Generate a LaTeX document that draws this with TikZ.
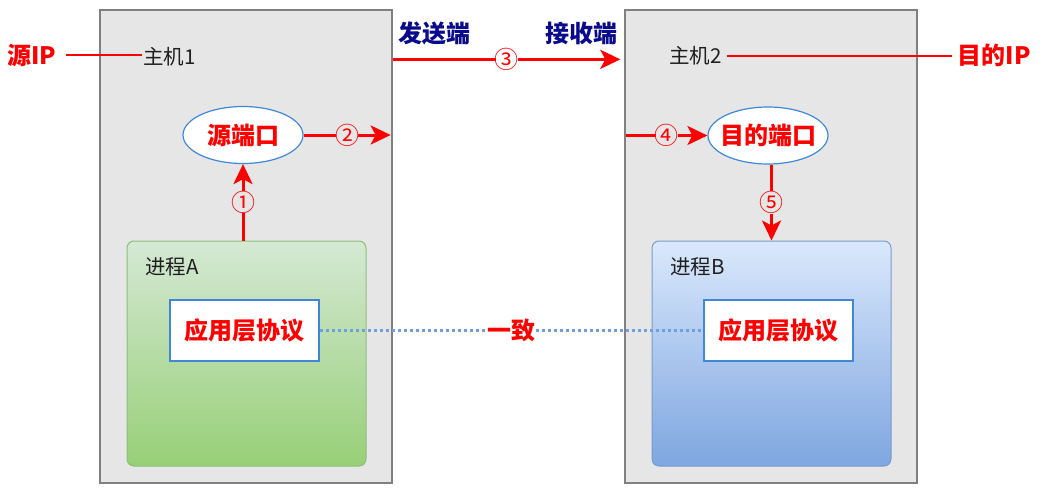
\documentclass[tikz,border=0pt]{standalone}
\usepackage{fontspec}
\setmainfont{Noto Sans CJK SC}
\usetikzlibrary{arrows.meta,shapes.geometric,calc}
\definecolor{hostfill}{HTML}{E6E6E6}
\definecolor{hostdraw}{HTML}{808080}
\definecolor{greentop}{HTML}{D5E8D4}
\definecolor{greenbot}{HTML}{97D077}
\definecolor{greendraw}{HTML}{8CBF78}
\definecolor{bluetop}{HTML}{DAE8FC}
\definecolor{bluebot}{HTML}{7EA6E0}
\definecolor{bluedraw}{HTML}{7A9CCF}
\definecolor{boxblue}{HTML}{3F88D8}
\definecolor{navyc}{HTML}{0A0A8C}
\definecolor{dotblue}{HTML}{6FA0DC}
\begin{document}
\begin{tikzpicture}[x=1pt,y=-1pt,
 host/.style={draw=hostdraw,fill=hostfill,line width=1.3pt,minimum width=292pt,minimum height=473pt,inner sep=0},
 proc/.style={rounded corners=7pt,line width=1pt,minimum width=239pt,minimum height=225pt,inner sep=0},
 appbox/.style={draw=boxblue,fill=white,line width=1.2pt,minimum width=149pt,minimum height=61pt,inner sep=0,font=\fontsize{24}{27}\selectfont\bfseries,text=red},
 port/.style={ellipse,draw=boxblue,fill=white,line width=1.2pt,minimum width=120pt,minimum height=57pt,inner xsep=-6pt,inner ysep=0pt,font=\fontsize{24}{27}\selectfont\bfseries,text=red},
 plain/.style={font=\fontsize{20.5}{23}\selectfont,inner sep=0,text=black!88},
 redlbl/.style={font=\fontsize{24}{27}\selectfont\bfseries,text=red,inner sep=0},
 bluelbl/.style={font=\fontsize{24}{27}\selectfont\bfseries,text=navyc,inner sep=0},
 num/.style={font=\fontsize{24}{26}\selectfont,text=red,inner xsep=-1pt,inner ysep=0pt},
 arr/.style={draw=red,line width=3pt,-{Stealth[length=20pt,width=19pt,inset=5pt]}},
 ipline/.style={draw=red,line width=2pt},
 dotline/.style={draw=dotblue,line width=2.5pt,dash pattern=on 3pt off 3pt}]
\useasboundingbox (0,0) rectangle (1048,492);
\node[host] (host1) at (246,246.5) {};
\node[host] (host2) at (771,246.5) {};
\node[proc,draw=greendraw,top color=greentop,bottom color=greenbot] (procA) at (246.5,353.5) {};
\node[proc,draw=bluedraw,top color=bluetop,bottom color=bluebot] (procB) at (771.5,353.5) {};
\node[plain,anchor=west] (pa) at (145,267) {进程A};
\node[plain,anchor=west] (pb) at (670,267) {进程B};
\node[appbox] (appA) at (244.5,330.5) {应用层协议};
\node[appbox] (appB) at (778.5,330.5) {应用层协议};
\node[port] (src) at (243,135) {源端口};
\node[port] (dst) at (768,135.5) {目的端口};
\node[plain,anchor=west] (h1) at (143,57) {主机1};
\node[plain,anchor=west] (h2) at (669,56) {主机2};
\node[redlbl,anchor=west] (srcip) at (7,55) {源IP};
\node[redlbl,anchor=east] (dstip) at (1031,55) {目的IP};
\node[bluelbl,anchor=west] (send) at (398,33) {发送端};
\node[bluelbl,anchor=east] (recv) at (618,33) {接收端};
\draw[ipline,shorten <=10pt,shorten >=1pt] (srcip.east) -- (srcip.east -| h1.west);
\draw[ipline,shorten <=5pt,shorten >=6pt] (h2.east) -- (h2.east -| dstip.west);
\coordinate (c3a) at ($(host1.north east)+(0,50)$);
\coordinate (c3b) at ($(host2.north west)+(-4,50)$);
\draw[arr] (c3a) -- node[num,fill=white]{③} (c3b);
\coordinate (c2b) at ($(src.east -| host1.east)+(-2,0)$);
\draw[arr] (src.east) -- node[num,fill=hostfill]{②} (c2b);
\coordinate (c4a) at ($(dst.west -| host2.west)+(2,0)$);
\draw[arr] (c4a) -- node[num,fill=hostfill]{④} (dst.west);
\draw[arr] (procA.north -| src.south) -- node[num,fill=hostfill]{①} (src.south);
\draw[arr] (dst.south -| procB.north) -- node[num,fill=hostfill]{⑤} (procB.north);
\draw[dotline] (appA.east) -- node[redlbl,fill=white]{一致} (appB.west);
\end{tikzpicture}
\end{document}
